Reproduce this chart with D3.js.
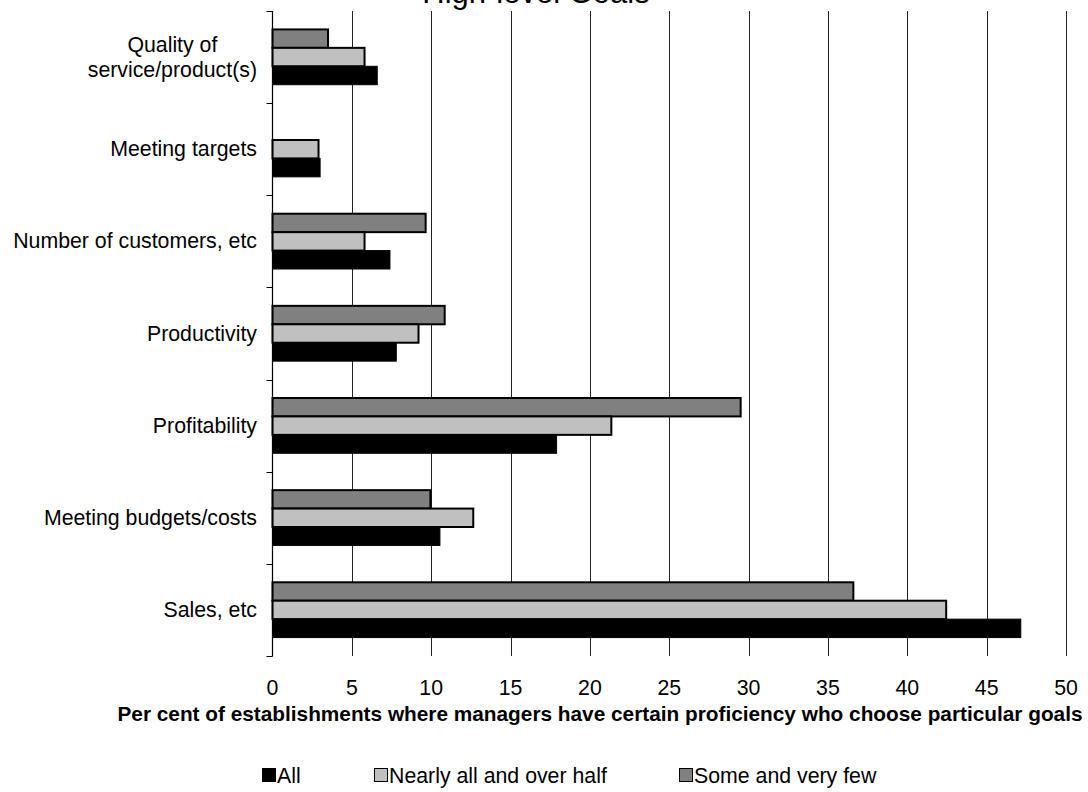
<!DOCTYPE html>
<html>
<head>
<meta charset="utf-8">
<script src="https://cdn.jsdelivr.net/npm/d3@7"></script>
<style>
  html, body { margin: 0; padding: 0; background: #fff; }
  svg { display: block; font-family: "Liberation Sans", Arial, sans-serif; }
</style>
</head>
<body>
<svg id="chart" width="1088" height="792"></svg>
<script>
// Goal categories, listed top to bottom
const categories = [
  "Quality of\nservice/product(s)",
  "Meeting targets",
  "Number of customers, etc",
  "Productivity",
  "Profitability",
  "Meeting budgets/costs",
  "Sales, etc"
];

// Series drawn within each category, top to bottom
const seriesNames = ["Some and very few", "Nearly all and over half", "All"];

// Per cent values for each series, same order as categories
const someVeryFew   = [3.5, null, 9.65, 10.85, 29.5, 9.95, 36.6];
const nearlyAllHalf = [5.8, 2.9, 5.8, 9.2, 21.35, 12.65, 42.45];
const allManagers   = [6.6, 3.0, 7.4, 7.8, 17.9, 10.55, 47.15];

const xTicks = [0, 5, 10, 15, 20, 25, 30, 35, 40, 45, 50];

// Legend order left to right
const legendItems = ["All", "Nearly all and over half", "Some and very few"];

const fills = {
  "All": "#000000",
  "Nearly all and over half": "#c0c0c0",
  "Some and very few": "#808080"
};

const valuesBySeries = {
  "Some and very few": someVeryFew,
  "Nearly all and over half": nearlyAllHalf,
  "All": allManagers
};

const FONT = 21.3;

const svg = d3.select("#chart");

const plot = { left: 272.5, right: 1066, top: 11, bottom: 656 };

const x = d3.scaleLinear().domain([0, 50]).range([plot.left, plot.right]);

const y = d3.scaleBand()
  .domain(categories)
  .range([plot.top, plot.bottom])
  .paddingInner(0.4)
  .paddingOuter(0.2);

// band including gaps, for category boundary ticks
const yOuter = d3.scaleBand().domain(categories).range([plot.top, plot.bottom]);

const ySub = d3.scaleBand().domain(seriesNames).range([0, y.bandwidth()]);

// Title (runs off the top edge)
svg.append("text")
  .attr("x", 536)
  .attr("y", 3)
  .attr("text-anchor", "middle")
  .attr("font-size", 31)
  .attr("fill", "#000")
  .text("High-level Goals");

// Vertical gridlines
svg.append("g")
  .selectAll("line")
  .data(xTicks.filter(d => d > 0))
  .join("line")
  .attr("x1", d => Math.round(x(d)) + 0.5)
  .attr("x2", d => Math.round(x(d)) + 0.5)
  .attr("y1", plot.top)
  .attr("y2", plot.bottom)
  .attr("stroke", "#222")
  .attr("stroke-width", 1);

// Bars
const groups = svg.append("g")
  .selectAll("g")
  .data(categories)
  .join("g")
  .attr("transform", d => `translate(0,${y(d)})`);

groups.selectAll("rect")
  .data((c, i) => seriesNames
    .map(s => ({ series: s, value: valuesBySeries[s][i] }))
    .filter(d => d.value != null))
  .join("rect")
  .attr("x", x(0))
  .attr("y", d => ySub(d.series))
  .attr("width", d => x(d.value) - x(0))
  .attr("height", ySub.bandwidth())
  .attr("fill", d => fills[d.series])
  .attr("stroke", "#000")
  .attr("stroke-width", d => d.series === "All" ? 1 : 2);

// Y axis line and category boundary ticks
const yAxis = svg.append("g");
yAxis.append("line")
  .attr("x1", plot.left).attr("x2", plot.left)
  .attr("y1", plot.top).attr("y2", plot.bottom + 0.5)
  .attr("stroke", "#000").attr("stroke-width", 1.2);

const boundaries = categories.map(c => yOuter(c)).concat([plot.bottom]);
yAxis.selectAll("line.tick")
  .data(boundaries)
  .join("line")
  .attr("class", "tick")
  .attr("x1", plot.left - 6).attr("x2", plot.left)
  .attr("y1", d => Math.round(d) + 0.5)
  .attr("y2", d => Math.round(d) + 0.5)
  .attr("stroke", "#000").attr("stroke-width", 1);

// Category labels (multi-line labels are centred on their widest line)
const labelRight = 257;
const lineH = 25;
categories.forEach(c => {
  const lines = c.split("\n");
  const cy = y(c) + y.bandwidth() / 2;
  const t = svg.append("text")
    .attr("font-size", FONT)
    .attr("fill", "#000");
  lines.forEach((ln, i) => {
    t.append("tspan")
      .attr("y", cy + 7 + (i - (lines.length - 1) / 2) * lineH)
      .text(ln);
  });
  const spans = t.selectAll("tspan").nodes();
  const maxW = d3.max(spans, n => n.getComputedTextLength());
  t.attr("text-anchor", "middle");
  t.selectAll("tspan").attr("x", labelRight - maxW / 2);
});

// X tick labels
svg.append("g")
  .selectAll("text")
  .data(xTicks)
  .join("text")
  .attr("x", d => x(d))
  .attr("y", 695)
  .attr("text-anchor", "middle")
  .attr("font-size", FONT)
  .attr("fill", "#000")
  .text(d => d);

// X axis title
svg.append("text")
  .attr("x", 600)
  .attr("y", 721)
  .attr("text-anchor", "middle")
  .attr("font-size", 20.8)
  .attr("font-weight", "bold")
  .attr("fill", "#000")
  .text("Per cent of establishments where managers have certain proficiency who choose particular goals");

// Legend
const legendX = [262, 374, 679];
const legend = svg.append("g")
  .selectAll("g")
  .data(legendItems)
  .join("g")
  .attr("transform", (d, i) => `translate(${legendX[i]},776)`);

legend.append("rect")
  .attr("x", 0.5).attr("y", -7.5)
  .attr("width", 13).attr("height", 13)
  .attr("fill", d => fills[d])
  .attr("stroke", "#000")
  .attr("stroke-width", 1);

legend.append("text")
  .attr("x", 15)
  .attr("y", 7)
  .attr("font-size", FONT)
  .attr("fill", "#000")
  .text(d => d);
</script>
</body>
</html>
